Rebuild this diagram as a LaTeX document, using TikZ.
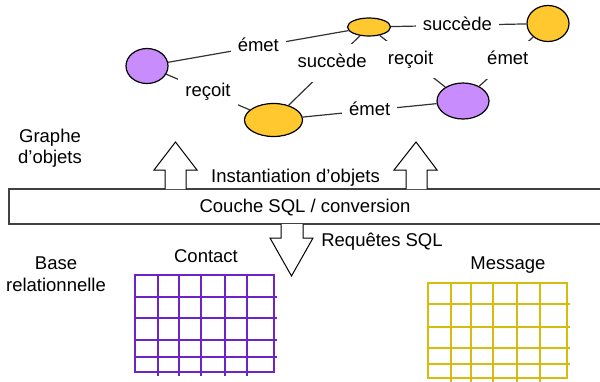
\documentclass[tikz,border=0pt]{standalone}
\usepackage{fontspec}
\setmainfont{Liberation Sans}
\usetikzlibrary{shapes.geometric}
\definecolor{lav}{RGB}{200,140,252}
\definecolor{gold}{RGB}{254,200,46}
\definecolor{gridpurple}{RGB}{108,36,198}
\definecolor{gridyellow}{RGB}{214,188,14}
\begin{document}
\begin{tikzpicture}[x=1pt,y=-1pt,
  font=\fontsize{18.5}{21.5}\selectfont,
  obj/.style={ellipse, draw=black, line width=1.2pt, inner sep=0pt},
  rel/.style={draw=black!80, line width=1.2pt},
  lbl/.style={fill=white, inner xsep=7pt, inner ysep=10pt, text height=13.5pt, text depth=4pt},
  blockarrow/.style={draw=black, line width=1pt, fill=white},
  gridline/.style={line width=2.8pt}]
\clip (0,0) rectangle (600,381);
\useasboundingbox (0,0) rectangle (600,381);

% object graph
\node[obj, fill=lav,  minimum width=42pt, minimum height=35pt] (p1) at (147,66) {};
\node[obj, fill=gold, minimum width=43pt, minimum height=18pt] (y1) at (369,27) {};
\node[obj, fill=gold, minimum width=58pt, minimum height=33pt] (y2) at (273.5,120) {};
\node[obj, fill=gold, minimum width=42pt, minimum height=36pt] (y3) at (548,23.5) {};
\node[obj, fill=lav,  minimum width=52pt, minimum height=36pt] (p2) at (463,101) {};

\draw[rel] (p1) -- node[lbl]{émet} (y1);
\draw[rel] (p1) -- node[lbl]{reçoit} (y2);
\draw[rel] (y2) -- node[lbl,pos=0.61]{succède} (y1);
\draw[rel] (y1) -- node[lbl,pos=0.47]{reçoit} (p2);
\draw[rel] (y1) -- node[lbl,pos=0.49]{succède} (y3);
\draw[rel] (p2) -- node[lbl,pos=0.53]{émet} (y3);
\draw[rel] (y2) -- node[lbl]{émet} (p2);

% left labels
\node[align=center] (graphe) at (50,148) {Graphe\\d’objets};
\node[align=center] (base) at (56,274) {Base\\relationnelle};

% SQL layer
\draw[line width=1.5pt, draw=black!75] (9,189) rectangle (612,224);
\node (layer) at (305,207.5) {Couche SQL / conversion};

% block arrows
\draw[blockarrow] (165,189) -- (165,170) -- (154,170) -- (175.5,142) -- (197,170) -- (186,170) -- (186,189);
\draw[blockarrow] (406,189) -- (406,170) -- (394,170) -- (416,142) -- (437,170) -- (427,170) -- (427,189);
\draw[blockarrow] (281,224) -- (281,238) -- (270,238) -- (291.5,276) -- (313,238) -- (303,238) -- (303,224);
\node (inst) at (295.5,178) {Instantiation d’objets};
\node (req) at (382,242) {Requêtes SQL};

% tables
\node (contact) at (206,256) {Contact};
\node (message) at (508,265) {Message};

\begin{scope}
  \foreach \x in {158,179,201,225,247} \draw[gridline,gridpurple] (\x,275) -- (\x,376);
  \foreach \y in {297,318,340,357} \draw[gridline,gridpurple] (135,\y) -- (277,\y);
  \draw[gridline,gridpurple] (135,275) rectangle (274,372);
\end{scope}
\begin{scope}
  \foreach \x in {451,471,493,517,540} \draw[gridline,gridyellow] (\x,283) -- (\x,385);
  \foreach \y in {304,327,348,364} \draw[gridline,gridyellow] (428,\y) -- (570,\y);
  \draw[gridline,gridyellow] (428,283) rectangle (567,378);
\end{scope}
\end{tikzpicture}
\end{document}
